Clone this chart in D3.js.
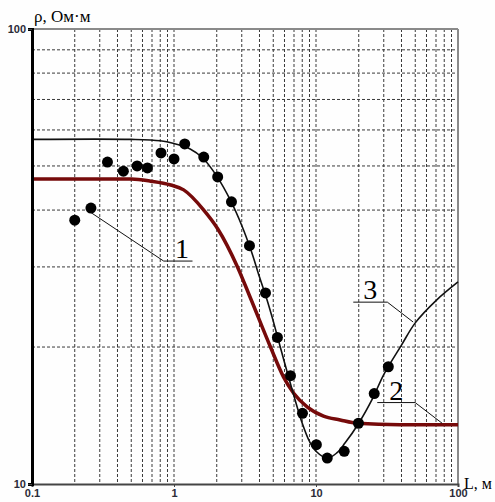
<!DOCTYPE html>
<html>
<head>
<meta charset="utf-8">
<script src="https://cdn.jsdelivr.net/npm/d3@7"></script>
<style>
  body { margin: 0; background: #fff; }
  .tick text { font-family: Arial, "Liberation Sans", sans-serif; font-weight: bold; font-size: 11px; fill: #2b2b38; }
</style>
</head>
<body>
<div id="wrapper"></div>
<script>
// measured points
const dotsL = [0.2, 0.26, 0.34, 0.44, 0.55, 0.65, 0.81, 1.0, 1.19, 1.62, 2.03, 2.54,
  3.4, 4.41, 5.35, 6.61, 8.03, 10.06, 12.0, 15.8, 19.9, 25.7, 32.3]
const dotsRho = [38.0, 40.4, 51.0, 48.7, 50.0, 49.5, 53.4, 51.8, 55.9, 52.3, 47.3, 41.7,
  33.4, 26.3, 21.0, 17.3, 14.3, 12.2, 11.4, 11.8, 13.6, 15.8, 18.1]

// curve 3 (thin black)
const curve3L = [0.1, 0.5, 0.8, 1.0, 1.3, 1.6, 2.0, 2.5, 3.0, 3.5, 4.0, 4.5, 5.0, 6.0, 7.0,
  8.0, 9.0, 10, 12, 14, 16, 20, 25, 30, 40, 50, 70, 100]
const curve3Rho = [57.2, 57.2, 56.8, 56.0, 54.5, 52.0, 47.5, 42.0, 37.0, 32.5, 28.5, 25.5,
  22.8, 18.5, 15.6, 13.6, 12.4, 11.8, 11.4, 11.7, 12.3, 13.6, 15.4, 17.4, 20.2, 22.6, 25.3, 27.8]

// curve 2 (thick dark red)
const curve2L = [0.1, 0.5, 0.686, 0.948, 1.17, 1.62, 2.03, 2.8, 3.46, 4.78, 5.9, 6.94, 8.7,
  11.3, 14.8, 19.5, 39, 100]
const curve2Rho = [46.8, 46.8, 46.3, 45.4, 44.3, 40.0, 36.4, 30.0, 25.6, 20.0, 17.2, 15.85,
  14.76, 14.1, 13.83, 13.6, 13.5, 13.5]

// curve labels: shelf from L0 to L1 at rho, leader to (toL, toRho)
const labelNames = ["1", "3", "2"]
const labelShelfL = [[0.846, 1.35], [18.3, 31.8], [27, 49.9]]
const labelShelfRho = [30.9, 25.1, 15.1]
const labelTargetL = [0.26, 48.3, 77.3]
const labelTargetRho = [39.5, 22.7, 13.6]

const xTicks = [0.1, 1, 10, 100]
const yTicks = [10, 100]

const dimensions = {
  width: 495,
  height: 502,
  margin: { top: 29, right: 37, bottom: 18, left: 32 },
}
dimensions.boundedWidth = dimensions.width - dimensions.margin.left - dimensions.margin.right
dimensions.boundedHeight = dimensions.height - dimensions.margin.top - dimensions.margin.bottom

const wrapper = d3.select("#wrapper")
  .append("svg")
    .attr("width", dimensions.width)
    .attr("height", dimensions.height)
    .style("display", "block")

wrapper.append("rect")
    .attr("width", dimensions.width)
    .attr("height", dimensions.height)
    .attr("fill", "#fefefe")

const bounds = wrapper.append("g")
    .attr("transform", `translate(${dimensions.margin.left},${dimensions.margin.top})`)

const xScale = d3.scaleLog()
    .domain([0.1, 100])
    .range([0, dimensions.boundedWidth])
const yScale = d3.scaleLog()
    .domain([10, 100])
    .range([dimensions.boundedHeight, 0])

// grid
const xGrid = []
for (let d = 0.1; d < 100; d *= 10) {
  for (let k = 2; k <= 10; k++) xGrid.push(+(d * k).toPrecision(3))
}
const yGrid = [20, 30, 40, 50, 60, 70, 80, 90]

bounds.append("g")
  .selectAll("line")
  .data(xGrid.filter(v => v < 100))
  .join("line")
    .attr("x1", d => xScale(d))
    .attr("x2", d => xScale(d))
    .attr("y1", 0)
    .attr("y2", dimensions.boundedHeight)
    .attr("stroke", "#3a3a3a")
    .attr("stroke-width", 1)
    .attr("stroke-dasharray", "3,2")

bounds.append("g")
  .selectAll("line")
  .data(yGrid)
  .join("line")
    .attr("x1", 0)
    .attr("x2", dimensions.boundedWidth)
    .attr("y1", d => yScale(d))
    .attr("y2", d => yScale(d))
    .attr("stroke", "#3a3a3a")
    .attr("stroke-width", 1)
    .attr("stroke-dasharray", "3,2")

// frame
bounds.append("line")
    .attr("x1", 0).attr("x2", dimensions.boundedWidth)
    .attr("y1", 0).attr("y2", 0)
    .attr("stroke", "#8a8a8a").attr("stroke-width", 2)
bounds.append("line")
    .attr("x1", dimensions.boundedWidth).attr("x2", dimensions.boundedWidth)
    .attr("y1", 0).attr("y2", dimensions.boundedHeight)
    .attr("stroke", "#8a8a8a").attr("stroke-width", 2)

// curves
const line = (xs, ys, curve) => d3.line()
    .x(i => xScale(xs[i]))
    .y(i => yScale(ys[i]))
    .curve(curve)(d3.range(xs.length))

bounds.append("path")
    .attr("d", line(curve2L, curve2Rho, d3.curveMonotoneX))
    .attr("fill", "none")
    .attr("stroke", "#760a0a")
    .attr("stroke-width", 3.5)

bounds.append("path")
    .attr("d", line(curve3L, curve3Rho, d3.curveCatmullRom.alpha(0.5)))
    .attr("fill", "none")
    .attr("stroke", "#111")
    .attr("stroke-width", 1.6)

// dots
bounds.append("g")
  .selectAll("circle")
  .data(d3.range(dotsL.length))
  .join("circle")
    .attr("cx", i => xScale(dotsL[i]))
    .attr("cy", i => yScale(dotsRho[i]))
    .attr("r", 5.5)
    .attr("fill", "#000")

// callouts
labelNames.forEach((name, i) => {
  const y = yScale(labelShelfRho[i])
  const xa = xScale(labelShelfL[i][0]), xb = xScale(labelShelfL[i][1])
  const tx = xScale(labelTargetL[i]), ty = yScale(labelTargetRho[i])
  const path = tx < xa
    ? `M${tx},${ty}L${xa},${y}L${xb},${y}`
    : `M${xa},${y}L${xb},${y}L${tx},${ty}`
  bounds.append("path")
      .attr("d", path)
      .attr("fill", "none")
      .attr("stroke", "#111")
      .attr("stroke-width", 1)
  bounds.append("text")
      .attr("x", (xa + xb) / 2 + (i === 0 ? 4 : 0))
      .attr("y", y - 3)
      .attr("text-anchor", "middle")
      .style("font-family", "'Liberation Serif', 'Times New Roman', serif")
      .style("font-size", "28px")
      .text(name)
})

// axes
const xAxis = bounds.append("g")
    .attr("transform", `translate(0,${dimensions.boundedHeight})`)
    .call(d3.axisBottom(xScale).tickValues(xTicks).tickFormat(d3.format("~g")).tickSize(3).tickPadding(2))
xAxis.select(".domain").attr("stroke", "#444").attr("stroke-width", 2)
xAxis.selectAll(".tick line").attr("stroke", "#444")

const yAxis = bounds.append("g")
    .call(d3.axisLeft(yScale).tickValues(yTicks).tickFormat(d3.format("~g")).tickSize(4).tickPadding(2))
yAxis.select(".domain").attr("stroke", "#000").attr("stroke-width", 3)
yAxis.selectAll(".tick line").attr("stroke", "#444")

// titles
wrapper.append("text")
    .attr("x", 34)
    .attr("y", 22)
    .style("font-family", "'Liberation Serif', 'Times New Roman', serif")
    .style("font-size", "17px")
    .text("ρ, Ом·м")

wrapper.append("text")
    .attr("x", 492)
    .attr("y", 489)
    .attr("text-anchor", "end")
    .style("font-family", "'Liberation Serif', 'Times New Roman', serif")
    .style("font-size", "16px")
    .text("L, м")
</script>
</body>
</html>
